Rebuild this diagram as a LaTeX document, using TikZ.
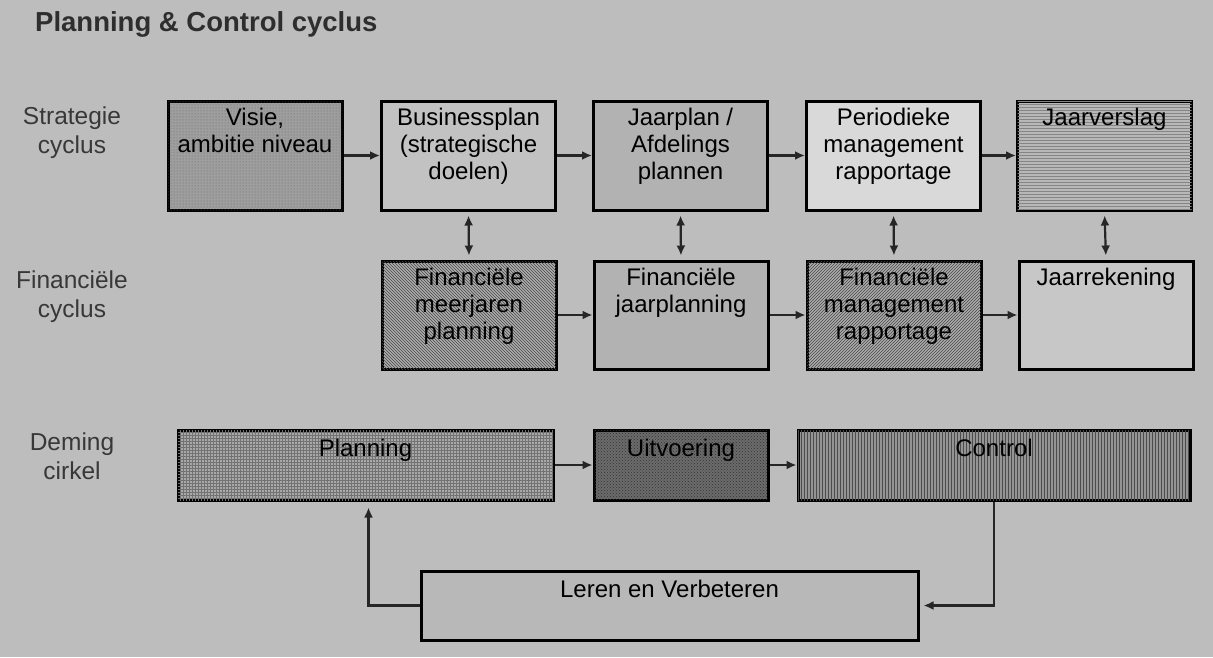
\documentclass[tikz,border=0pt]{standalone}
\usepackage{fontspec}
\setmainfont{Liberation Sans}
\usetikzlibrary{arrows.meta,patterns}
\begin{document}
\begin{tikzpicture}[x=1pt,y=-1pt,
  box/.style={draw=black, line width=3pt, rectangle, inner sep=0pt},
  boxtxt/.style={anchor=north, inner sep=0pt, align=center, text=black,
    font=\fontsize{24}{27}\selectfont},
  lbl/.style={align=center, inner sep=0pt, text=black!78,
    font=\fontsize{24.5}{29}\selectfont},
  arr/.style={draw=black!85, line width=2.2pt, -{Latex[length=10pt,width=9pt]}},
  darr/.style={draw=black!85, line width=2.2pt, {Latex[length=10pt,width=9pt]}-{Latex[length=10pt,width=9pt]}, shorten <=4pt, shorten >=4pt},
  rowA/.style={box, minimum width=174pt, minimum height=109pt},
  rowB/.style={box, minimum width=174pt, minimum height=108pt},
]
\useasboundingbox (0,0) rectangle (1213,657);
\fill[black!26] (0,0) rectangle (1213,657);

% title
\node[anchor=base west, inner sep=0pt, text=black!82, font=\fontsize{27.5}{30}\selectfont\bfseries] (title) at (35,31) {Planning \& Control cyclus};

% row labels
\node[lbl] (lstrat) at (72,133) {Strategie\\cyclus};
\node[lbl] (lfin) at (72,297) {Financiële\\cyclus};
\node[lbl] (ldem) at (72,456) {Deming\\cirkel};

% row 1
\node[rowA, fill=black!38, postaction={pattern=dots, pattern color=black!60}] (vis) at (255,155.5) {};
\node[rowA, fill=black!24] (bus) at (468.5,155.5) {};
\node[rowA, fill=black!30] (jaa) at (680.5,155.5) {};
\node[rowA, fill=black!15] (per) at (893.5,155.5) {};
\node[rowA, fill=black!28, postaction={pattern=horizontal lines, pattern color=black!48}] (jvs) at (1104.5,155.5) {};

\node[boxtxt] (visT) at ([yshift=-8pt]vis.north) {Visie,\\ambitie niveau};
\node[boxtxt] (busT) at ([yshift=-8pt]bus.north) {Businessplan\\(strategische\\doelen)};
\node[boxtxt] (jaaT) at ([yshift=-8pt]jaa.north) {Jaarplan /\\Afdelings\\plannen};
\node[boxtxt] (perT) at ([yshift=-8pt]per.north) {Periodieke\\management\\rapportage};
\node[boxtxt] (jvsT) at ([yshift=-8pt]jvs.north) {Jaarverslag};

% row 2
\node[rowB, fill=black!32, postaction={pattern=north west lines, pattern color=black!72}] (fmp) at (469,315) {};
\node[rowB, fill=black!30] (fjp) at (681,315) {};
\node[rowB, fill=black!32, postaction={pattern=north east lines, pattern color=black!72}] (fmr) at (894,315) {};
\node[rowB, fill=black!22] (jrk) at (1106,315) {};

\node[boxtxt] (fmpT) at ([yshift=-8pt]fmp.north) {Financiële\\meerjaren\\planning};
\node[boxtxt] (fjpT) at ([yshift=-8pt]fjp.north) {Financiële\\jaarplanning};
\node[boxtxt] (fmrT) at ([yshift=-8pt]fmr.north) {Financiële\\management\\rapportage};
\node[boxtxt] (jrkT) at ([yshift=-8pt]jrk.north) {Jaarrekening};

% Deming row
\node[box, minimum width=375pt, minimum height=70pt, fill=black!34, postaction={pattern=grid, pattern color=black!55}] (pla) at (365.5,465) {};
\node[box, minimum width=174pt, minimum height=70pt, fill=black!58, postaction={pattern=crosshatch dots, pattern color=black!80}] (uit) at (681,465) {};
\node[box, minimum width=392pt, minimum height=70pt, fill=black!42, postaction={pattern=vertical lines, pattern color=black!70}] (con) at (994,465) {};
\node[box, minimum width=497pt, minimum height=69pt, fill=black!28] (ler) at (669.5,605.5) {};

\node[boxtxt] (plaT) at ([yshift=-10pt]pla.north) {Planning};
\node[boxtxt] (uitT) at ([yshift=-10pt]uit.north) {Uitvoering};
\node[boxtxt] (conT) at ([yshift=-10pt]con.north) {Control};
\node[boxtxt] (lerT) at ([yshift=-10pt]ler.north) {Leren en Verbeteren};

% horizontal arrows
\draw[arr] (vis.east) -- (bus.west);
\draw[arr] (bus.east) -- (jaa.west);
\draw[arr] (jaa.east) -- (per.west);
\draw[arr] (per.east) -- (jvs.west);
\draw[arr] (fmp.east) -- (fjp.west);
\draw[arr] (fjp.east) -- (fmr.west);
\draw[arr] (fmr.east) -- (jrk.west);
\draw[arr] (pla.east) -- (uit.west);
\draw[arr] (uit.east) -- (con.west);

% vertical double arrows
\draw[darr] (bus.south) -- (fmp.north);
\draw[darr] (jaa.south) -- (fjp.north);
\draw[darr] (per.south) -- (fmr.north);
\draw[darr] (jvs.south) -- (jrk.north);

% feedback loop
\draw[arr, shorten >=6pt] (ler.west) -| ([xshift=3pt]pla.south);
\draw[arr, shorten >=4pt] (con.south) |- (ler.east);
\end{tikzpicture}
\end{document}
